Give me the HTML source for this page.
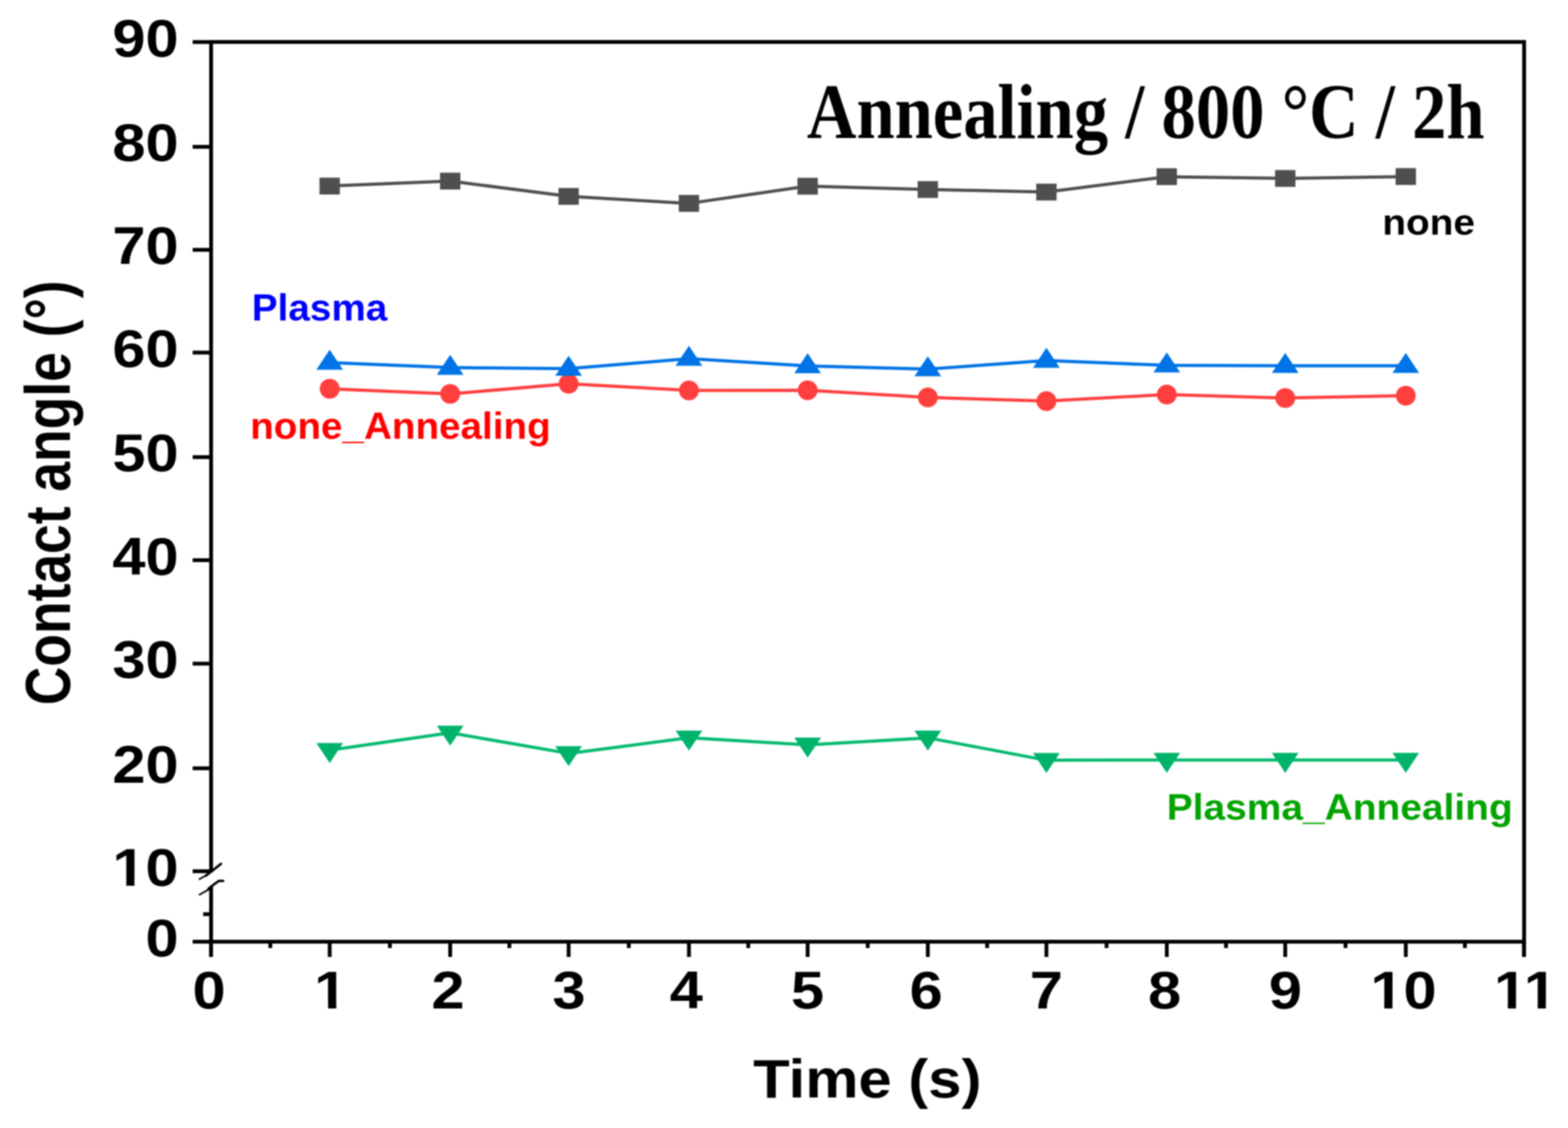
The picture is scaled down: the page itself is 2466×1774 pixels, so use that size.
<!DOCTYPE html><html><head><meta charset="utf-8"><title>Contact angle vs time</title><style>html,body{margin:0;padding:0;background:#fff;overflow:hidden}svg{display:block;filter:blur(0.8px)}</style></head><body>
<svg width="2466" height="1774" viewBox="0 0 2466 1774">
<rect width="2466" height="1774" fill="#fff"/>
<g stroke="#000" stroke-width="6" fill="none" stroke-linecap="butt">
<line x1="329.0" y1="66.1" x2="2400.0" y2="66.1"/>
<line x1="2397.0" y1="63.099999999999994" x2="2397.0" y2="1505.0"/>
<line x1="303" y1="1481.0" x2="2400.0" y2="1481.0"/>
<line x1="332.0" y1="63.099999999999994" x2="332.0" y2="1372"/>
<line x1="332.0" y1="1394" x2="332.0" y2="1505.0"/>
<line x1="303" y1="66.1" x2="332.0" y2="66.1"/>
<line x1="303" y1="230.9" x2="332.0" y2="230.9"/>
<line x1="303" y1="392.9" x2="332.0" y2="392.9"/>
<line x1="303" y1="554.5" x2="332.0" y2="554.5"/>
<line x1="303" y1="718.9" x2="332.0" y2="718.9"/>
<line x1="303" y1="881.0" x2="332.0" y2="881.0"/>
<line x1="303" y1="1043.7" x2="332.0" y2="1043.7"/>
<line x1="303" y1="1208.3" x2="332.0" y2="1208.3"/>
<line x1="303" y1="1370.2" x2="332.0" y2="1370.2"/>
<line x1="319.5" y1="1437.7" x2="332.0" y2="1437.7"/>
<line x1="331.8" y1="1481.0" x2="331.8" y2="1505.0"/>
<line x1="518.5" y1="1481.0" x2="518.5" y2="1505.0"/>
<line x1="708.0" y1="1481.0" x2="708.0" y2="1505.0"/>
<line x1="894.3" y1="1481.0" x2="894.3" y2="1505.0"/>
<line x1="1083.5" y1="1481.0" x2="1083.5" y2="1505.0"/>
<line x1="1270.2" y1="1481.0" x2="1270.2" y2="1505.0"/>
<line x1="1459.2" y1="1481.0" x2="1459.2" y2="1505.0"/>
<line x1="1645.7" y1="1481.0" x2="1645.7" y2="1505.0"/>
<line x1="1835.0" y1="1481.0" x2="1835.0" y2="1505.0"/>
<line x1="2021.3" y1="1481.0" x2="2021.3" y2="1505.0"/>
<line x1="2210.9" y1="1481.0" x2="2210.9" y2="1505.0"/>
<line x1="2396.6" y1="1481.0" x2="2396.6" y2="1505.0"/>
<line x1="425.1" y1="1481.0" x2="425.1" y2="1491.0"/>
<line x1="613.2" y1="1481.0" x2="613.2" y2="1491.0"/>
<line x1="801.1" y1="1481.0" x2="801.1" y2="1491.0"/>
<line x1="988.9" y1="1481.0" x2="988.9" y2="1491.0"/>
<line x1="1176.8" y1="1481.0" x2="1176.8" y2="1491.0"/>
<line x1="1364.7" y1="1481.0" x2="1364.7" y2="1491.0"/>
<line x1="1552.5" y1="1481.0" x2="1552.5" y2="1491.0"/>
<line x1="1740.3" y1="1481.0" x2="1740.3" y2="1491.0"/>
<line x1="1928.2" y1="1481.0" x2="1928.2" y2="1491.0"/>
<line x1="2116.1" y1="1481.0" x2="2116.1" y2="1491.0"/>
<line x1="2303.8" y1="1481.0" x2="2303.8" y2="1491.0"/>
</g>
<g stroke="#000" fill="none" stroke-linecap="round" stroke-linejoin="round">
<path d="M313.6 1382.6 L326 1375.5" stroke-width="2.6"/>
<path d="M324 1377 L335 1368.5 L347.6 1358.6" stroke-width="3.8"/>
<path d="M313.6 1407.2 L329 1398.5" stroke-width="2.6"/>
<path d="M328 1397.5 L339 1389 L344.5 1385.4 L351 1385.4" stroke-width="3.8"/>
</g>
<polyline points="518.5,292.6 708.0,284.8 894.3,308.8 1083.5,319.9 1270.2,292.8 1459.2,298.0 1645.7,302.0 1835.0,277.9 2021.3,280.6 2210.9,277.7" fill="none" stroke="#4f4f4f" stroke-width="5.0" stroke-linejoin="round"/>
<rect x="502.5" y="279.4" width="32.0" height="26.5" fill="#4f4f4f"/>
<rect x="692.0" y="271.6" width="32.0" height="26.5" fill="#4f4f4f"/>
<rect x="878.3" y="295.6" width="32.0" height="26.5" fill="#4f4f4f"/>
<rect x="1067.5" y="306.6" width="32.0" height="26.5" fill="#4f4f4f"/>
<rect x="1254.2" y="279.6" width="32.0" height="26.5" fill="#4f4f4f"/>
<rect x="1443.2" y="284.8" width="32.0" height="26.5" fill="#4f4f4f"/>
<rect x="1629.7" y="288.8" width="32.0" height="26.5" fill="#4f4f4f"/>
<rect x="1819.0" y="264.6" width="32.0" height="26.5" fill="#4f4f4f"/>
<rect x="2005.3" y="267.4" width="32.0" height="26.5" fill="#4f4f4f"/>
<rect x="2194.9" y="264.4" width="32.0" height="26.5" fill="#4f4f4f"/>
<polyline points="518.5,611.4 708.0,619.5 894.3,603.5 1083.5,614.0 1270.2,613.8 1459.2,625.0 1645.7,630.8 1835.0,620.5 2021.3,626.0 2210.9,622.3" fill="none" stroke="#ff3e3e" stroke-width="5.0" stroke-linejoin="round"/>
<circle cx="518.5" cy="611.4" r="15.6" fill="#ff3e3e"/>
<circle cx="708.0" cy="619.5" r="15.6" fill="#ff3e3e"/>
<circle cx="894.3" cy="603.5" r="15.6" fill="#ff3e3e"/>
<circle cx="1083.5" cy="614.0" r="15.6" fill="#ff3e3e"/>
<circle cx="1270.2" cy="613.8" r="15.6" fill="#ff3e3e"/>
<circle cx="1459.2" cy="625.0" r="15.6" fill="#ff3e3e"/>
<circle cx="1645.7" cy="630.8" r="15.6" fill="#ff3e3e"/>
<circle cx="1835.0" cy="620.5" r="15.6" fill="#ff3e3e"/>
<circle cx="2021.3" cy="626.0" r="15.6" fill="#ff3e3e"/>
<circle cx="2210.9" cy="622.3" r="15.6" fill="#ff3e3e"/>
<polyline points="518.5,570.3 708.0,578.1 894.3,579.8 1083.5,564.0 1270.2,575.6 1459.2,580.5 1645.7,567.1 1835.0,574.5 2021.3,575.2 2210.9,575.2" fill="none" stroke="#0073e6" stroke-width="5.0" stroke-linejoin="round"/>
<path d="M518.5,550.1 L539.5,581.6 L497.5,581.6Z" fill="#0073e6"/>
<path d="M708.0,557.9 L729.0,589.4 L687.0,589.4Z" fill="#0073e6"/>
<path d="M894.3,559.6 L915.3,591.1 L873.3,591.1Z" fill="#0073e6"/>
<path d="M1083.5,543.8 L1104.5,575.3 L1062.5,575.3Z" fill="#0073e6"/>
<path d="M1270.2,555.4 L1291.2,586.9 L1249.2,586.9Z" fill="#0073e6"/>
<path d="M1459.2,560.3 L1480.2,591.8 L1438.2,591.8Z" fill="#0073e6"/>
<path d="M1645.7,546.9 L1666.7,578.4 L1624.7,578.4Z" fill="#0073e6"/>
<path d="M1835.0,554.3 L1856.0,585.8 L1814.0,585.8Z" fill="#0073e6"/>
<path d="M2021.3,555.0 L2042.3,586.5 L2000.3,586.5Z" fill="#0073e6"/>
<path d="M2210.9,555.0 L2231.9,586.5 L2189.9,586.5Z" fill="#0073e6"/>
<polyline points="518.5,1179.8 708.0,1152.5 894.3,1184.9 1083.5,1160.3 1270.2,1171.4 1459.2,1160.4 1645.7,1195.6 1835.0,1195.2 2021.3,1195.2 2210.9,1195.2" fill="none" stroke="#05ba70" stroke-width="5.0" stroke-linejoin="round"/>
<path d="M497.5,1168.5 L539.5,1168.5 L518.5,1200.0Z" fill="#00b36b"/>
<path d="M687.0,1141.2 L729.0,1141.2 L708.0,1172.7Z" fill="#00b36b"/>
<path d="M873.3,1173.6 L915.3,1173.6 L894.3,1205.1Z" fill="#00b36b"/>
<path d="M1062.5,1149.0 L1104.5,1149.0 L1083.5,1180.5Z" fill="#00b36b"/>
<path d="M1249.2,1160.1 L1291.2,1160.1 L1270.2,1191.6Z" fill="#00b36b"/>
<path d="M1438.2,1149.1 L1480.2,1149.1 L1459.2,1180.6Z" fill="#00b36b"/>
<path d="M1624.7,1184.3 L1666.7,1184.3 L1645.7,1215.8Z" fill="#00b36b"/>
<path d="M1814.0,1183.9 L1856.0,1183.9 L1835.0,1215.4Z" fill="#00b36b"/>
<path d="M2000.3,1183.9 L2042.3,1183.9 L2021.3,1215.4Z" fill="#00b36b"/>
<path d="M2189.9,1183.9 L2231.9,1183.9 L2210.9,1215.4Z" fill="#00b36b"/>
<text font-family="'Liberation Sans', Arial, Helvetica, sans-serif" font-weight="bold" font-size="83.0" text-anchor="end" transform="translate(281.0,88.6) scale(1.13,1)">90</text>
<text font-family="'Liberation Sans', Arial, Helvetica, sans-serif" font-weight="bold" font-size="83.0" text-anchor="end" transform="translate(281.0,253.4) scale(1.13,1)">80</text>
<text font-family="'Liberation Sans', Arial, Helvetica, sans-serif" font-weight="bold" font-size="83.0" text-anchor="end" transform="translate(281.0,415.4) scale(1.13,1)">70</text>
<text font-family="'Liberation Sans', Arial, Helvetica, sans-serif" font-weight="bold" font-size="83.0" text-anchor="end" transform="translate(281.0,577.0) scale(1.13,1)">60</text>
<text font-family="'Liberation Sans', Arial, Helvetica, sans-serif" font-weight="bold" font-size="83.0" text-anchor="end" transform="translate(281.0,741.4) scale(1.13,1)">50</text>
<text font-family="'Liberation Sans', Arial, Helvetica, sans-serif" font-weight="bold" font-size="83.0" text-anchor="end" transform="translate(281.0,903.5) scale(1.13,1)">40</text>
<text font-family="'Liberation Sans', Arial, Helvetica, sans-serif" font-weight="bold" font-size="83.0" text-anchor="end" transform="translate(281.0,1066.2) scale(1.13,1)">30</text>
<text font-family="'Liberation Sans', Arial, Helvetica, sans-serif" font-weight="bold" font-size="83.0" text-anchor="end" transform="translate(281.0,1230.8) scale(1.13,1)">20</text>
<text font-family="'Liberation Sans', Arial, Helvetica, sans-serif" font-weight="bold" font-size="83.0" text-anchor="end" transform="translate(281.0,1392.7) scale(1.13,1)">10</text>
<text font-family="'Liberation Sans', Arial, Helvetica, sans-serif" font-weight="bold" font-size="83.0" text-anchor="end" transform="translate(281.0,1503.5) scale(1.13,1)">0</text>
<text font-family="'Liberation Sans', Arial, Helvetica, sans-serif" font-weight="bold" font-size="83.0" text-anchor="middle" transform="translate(328.9,1586.0) scale(1.13,1)">0</text>
<text font-family="'Liberation Sans', Arial, Helvetica, sans-serif" font-weight="bold" font-size="83.0" text-anchor="middle" transform="translate(520.2,1586.0) scale(1.13,1)">1</text>
<text font-family="'Liberation Sans', Arial, Helvetica, sans-serif" font-weight="bold" font-size="83.0" text-anchor="middle" transform="translate(704.6,1586.0) scale(1.13,1)">2</text>
<text font-family="'Liberation Sans', Arial, Helvetica, sans-serif" font-weight="bold" font-size="83.0" text-anchor="middle" transform="translate(894.8,1586.0) scale(1.13,1)">3</text>
<text font-family="'Liberation Sans', Arial, Helvetica, sans-serif" font-weight="bold" font-size="83.0" text-anchor="middle" transform="translate(1079.4,1586.0) scale(1.13,1)">4</text>
<text font-family="'Liberation Sans', Arial, Helvetica, sans-serif" font-weight="bold" font-size="83.0" text-anchor="middle" transform="translate(1270.0,1586.0) scale(1.13,1)">5</text>
<text font-family="'Liberation Sans', Arial, Helvetica, sans-serif" font-weight="bold" font-size="83.0" text-anchor="middle" transform="translate(1456.6,1586.0) scale(1.13,1)">6</text>
<text font-family="'Liberation Sans', Arial, Helvetica, sans-serif" font-weight="bold" font-size="83.0" text-anchor="middle" transform="translate(1645.7,1586.0) scale(1.13,1)">7</text>
<text font-family="'Liberation Sans', Arial, Helvetica, sans-serif" font-weight="bold" font-size="83.0" text-anchor="middle" transform="translate(1831.5,1586.0) scale(1.13,1)">8</text>
<text font-family="'Liberation Sans', Arial, Helvetica, sans-serif" font-weight="bold" font-size="83.0" text-anchor="middle" transform="translate(2021.5,1586.0) scale(1.13,1)">9</text>
<text font-family="'Liberation Sans', Arial, Helvetica, sans-serif" font-weight="bold" font-size="83.0" text-anchor="middle" transform="translate(2207.3,1586.0) scale(1.13,1)">10</text>
<text font-family="'Liberation Sans', Arial, Helvetica, sans-serif" font-weight="bold" font-size="83.0" text-anchor="middle" transform="translate(2399.0,1586.0) scale(1.13,1)">11</text>
<rect x="181.3" y="1382.8" width="17.3" height="10.7" fill="#fff"/>
<rect x="211.4" y="1382.8" width="15.6" height="10.7" fill="#fff"/>
<rect x="498.7" y="1576.1" width="17.3" height="10.7" fill="#fff"/>
<rect x="528.9" y="1576.1" width="15.6" height="10.7" fill="#fff"/>
<rect x="2159.7" y="1576.1" width="17.3" height="10.7" fill="#fff"/>
<rect x="2189.9" y="1576.1" width="15.6" height="10.7" fill="#fff"/>
<rect x="2354.0" y="1576.1" width="17.3" height="10.7" fill="#fff"/>
<rect x="2384.2" y="1576.1" width="15.6" height="10.7" fill="#fff"/>
<rect x="2401.0" y="1576.1" width="17.3" height="10.7" fill="#fff"/>
<rect x="2431.2" y="1576.1" width="15.6" height="10.7" fill="#fff"/>
<text font-family="'Liberation Sans', Arial, Helvetica, sans-serif" font-weight="bold" font-size="86" text-anchor="middle" transform="translate(1364,1726) scale(1.094,1)">Time (s)</text>
<text font-family="'Liberation Sans', Arial, Helvetica, sans-serif" font-weight="bold" font-size="84" text-anchor="middle" transform="translate(110,775) rotate(-90) scale(1,1.186)">Contact angle (°)</text>
<text font-family="'Liberation Serif', 'Times New Roman', Times, serif" font-weight="bold" font-size="127" text-anchor="start" transform="translate(1269,216.6) scale(0.85,0.96)">Annealing / 800 °C / 2h</text>
<text font-family="'Liberation Sans', Arial, Helvetica, sans-serif" font-weight="bold" font-size="57" fill="#000" transform="translate(2174,369) scale(1.07,1)">none</text>
<text font-family="'Liberation Sans', Arial, Helvetica, sans-serif" font-weight="bold" font-size="58.5" fill="#0000ff" transform="translate(396,503.5) scale(1.04,1)">Plasma</text>
<text font-family="'Liberation Sans', Arial, Helvetica, sans-serif" font-weight="bold" font-size="59" fill="#ff0000" transform="translate(393.5,690.2) scale(1.03,1)">none_Annealing</text>
<text font-family="'Liberation Sans', Arial, Helvetica, sans-serif" font-weight="bold" font-size="58" fill="#00a300" transform="translate(1835,1288.8) scale(1.055,1)">Plasma_Annealing</text>
</svg></body></html>
